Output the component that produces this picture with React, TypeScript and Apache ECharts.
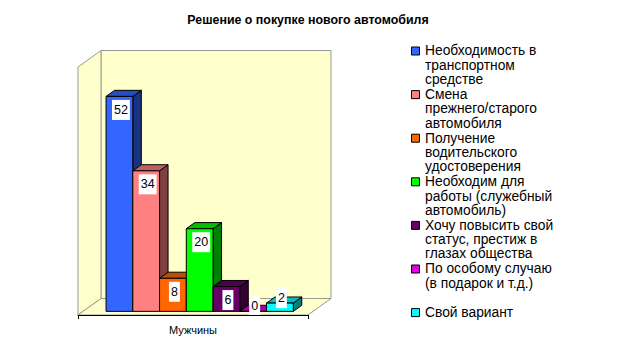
import React, { useEffect, useRef } from "react";
import * as echarts from "echarts";

const title = "Решение о покупке нового автомобиля";
const category = ["Мужчины"];
const seriesNames = [
  "Необходимость в\nтранспортном\nсредстве",
  "Смена\nпрежнего/старого\nавтомобиля",
  "Получение\nводительского\nудостоверения",
  "Необходим для\nработы (служебный\nавтомобиль)",
  "Хочу повысить свой\nстатус, престиж в\nглазах общества",
  "По особому случаю\n(в подарок и т.д.)",
  "Свой вариант",
];
const values = [52, 34, 8, 20, 6, 0, 2];
const colors = ["#3366ff", "#ff8080", "#ff6600", "#00ff00", "#660066", "#e000e0", "#00ffff"];
const yMax = 60;

function shade(hex: string, f: number) {
  const n = parseInt(hex.slice(1), 16);
  const r = Math.round(((n >> 16) & 255) * f);
  const g = Math.round(((n >> 8) & 255) * f);
  const b = Math.round((n & 255) * f);
  return `rgb(${r},${g},${b})`;
}

const DEPTH = [23, -16.5];
const XMAX = 8.6;
const GAP = 0.86;
const BAR_Z0 = 0.22;
const BAR_Z1 = 0.59;

export default function App() {
  const ref = useRef<HTMLDivElement>(null);
  useEffect(() => {
    const chart = echarts.init(ref.current!, null, { renderer: "svg" });
    const font = "'Liberation Sans', Arial, sans-serif";

    const proj = (api: any, x: number, y: number, z: number) => {
      const p = api.coord([x, y]);
      return [p[0] + z * DEPTH[0], p[1] + z * DEPTH[1]];
    };

    const legendGraphics: any[] = [];
    seriesNames.forEach((name, i) => {
      const y0 = 51 + 43.6 * i;
      legendGraphics.push({
        type: "rect",
        shape: { x: 411.5, y: y0 - 4, width: 8, height: 8 },
        style: { fill: colors[i], stroke: "#000", lineWidth: 1 },
      });
      legendGraphics.push({
        type: "text",
        x: 425,
        y: y0 - 7.2,
        style: {
          text: name,
          font: `13.8px ${font}`,
          fill: "#000",
          lineHeight: 14.3,
          verticalAlign: "top",
          textAlign: "left",
        },
      });
    });

    chart.setOption({
      animation: false,
      graphic: [
        {
          type: "text",
          x: 308,
          y: 20,
          style: {
            text: title,
            font: `bold 12.4px ${font}`,
            fill: "#000",
            textAlign: "center",
            textVerticalAlign: "middle",
          },
        },
        ...legendGraphics,
      ],
      grid: { left: 78, width: 230, top: 67, height: 248 },
      xAxis: [
        {
          type: "category",
          data: category,
          z: 10,
          axisLine: { lineStyle: { color: "#000", width: 1 } },
          axisTick: { show: true, length: 4, lineStyle: { color: "#000" } },
          axisLabel: { fontSize: 11, fontFamily: font, color: "#000", margin: 9 },
          splitLine: { show: false },
        },
        { type: "value", min: 0, max: XMAX, show: false },
      ],
      yAxis: { type: "value", min: 0, max: yMax, show: false },
      series: [
        {
          type: "custom",
          xAxisIndex: 1,
          z: 1,
          silent: true,
          data: [[0, 0]],
          renderItem: (params: any, api: any) => {
            const st = { fill: "#ffffcc", stroke: "#999999", lineWidth: 1 };
            const poly = (pts: number[][]) => ({ type: "polygon", shape: { points: pts }, style: st });
            return {
              type: "group",
              children: [
                poly([proj(api, 0, yMax, 1), proj(api, XMAX, yMax, 1), proj(api, XMAX, 0, 1), proj(api, 0, 0, 1)]),
                poly([proj(api, 0, yMax, 0), proj(api, 0, yMax, 1), proj(api, 0, 0, 1), proj(api, 0, 0, 0)]),
                poly([proj(api, 0, 0, 0), proj(api, 0, 0, 1), proj(api, XMAX, 0, 1), proj(api, XMAX, 0, 0)]),
              ],
            };
          },
        },
        {
          type: "custom",
          xAxisIndex: 1,
          z: 3,
          silent: true,
          data: values.map((v, i) => [i, v]),
          renderItem: (params: any, api: any) => {
            const i = api.value(0);
            const v = api.value(1);
            const c = colors[i];
            const x0 = GAP + i;
            const x1 = x0 + 1;
            const s = { stroke: "#000", lineWidth: 1 };
            const fTL = proj(api, x0, v, BAR_Z0);
            const fTR = proj(api, x1, v, BAR_Z0);
            const fBR = proj(api, x1, 0, BAR_Z0);
            const fBL = proj(api, x0, 0, BAR_Z0);
            const bTL = proj(api, x0, v, BAR_Z1);
            const bTR = proj(api, x1, v, BAR_Z1);
            const bBR = proj(api, x1, 0, BAR_Z1);
            const cx = (fTL[0] + fTR[0]) / 2 + 1.5;
            const ly = v >= 5 ? fTL[1] + 13.5 : fTL[1] - 5;
            return {
              type: "group",
              children: [
                { type: "polygon", shape: { points: [fTR, fBR, bBR, bTR] }, style: { ...s, fill: shade(c, 0.5) } },
                { type: "polygon", shape: { points: [fTL, fTR, bTR, bTL] }, style: { ...s, fill: shade(c, 0.75) } },
                { type: "polygon", shape: { points: [fTL, fTR, fBR, fBL] }, style: { ...s, fill: c } },
                {
                  type: "text",
                  x: cx,
                  y: ly,
                  z2: 100,
                  style: {
                    text: String(v),
                    font: `12.5px ${font}`,
                    fill: "#000",
                    align: "center",
                    verticalAlign: "middle",
                    backgroundColor: "#fff",
                    padding: [4, 2, 3, 2],
                  },
                },
              ],
            };
          },
        },
      ],
    });
    return () => chart.dispose();
  }, []);
  return (
    <div
      ref={ref}
      style={{ position: "fixed", left: 0, top: 0, width: 620, height: 351, background: "#fff" }}
    />
  );
}
